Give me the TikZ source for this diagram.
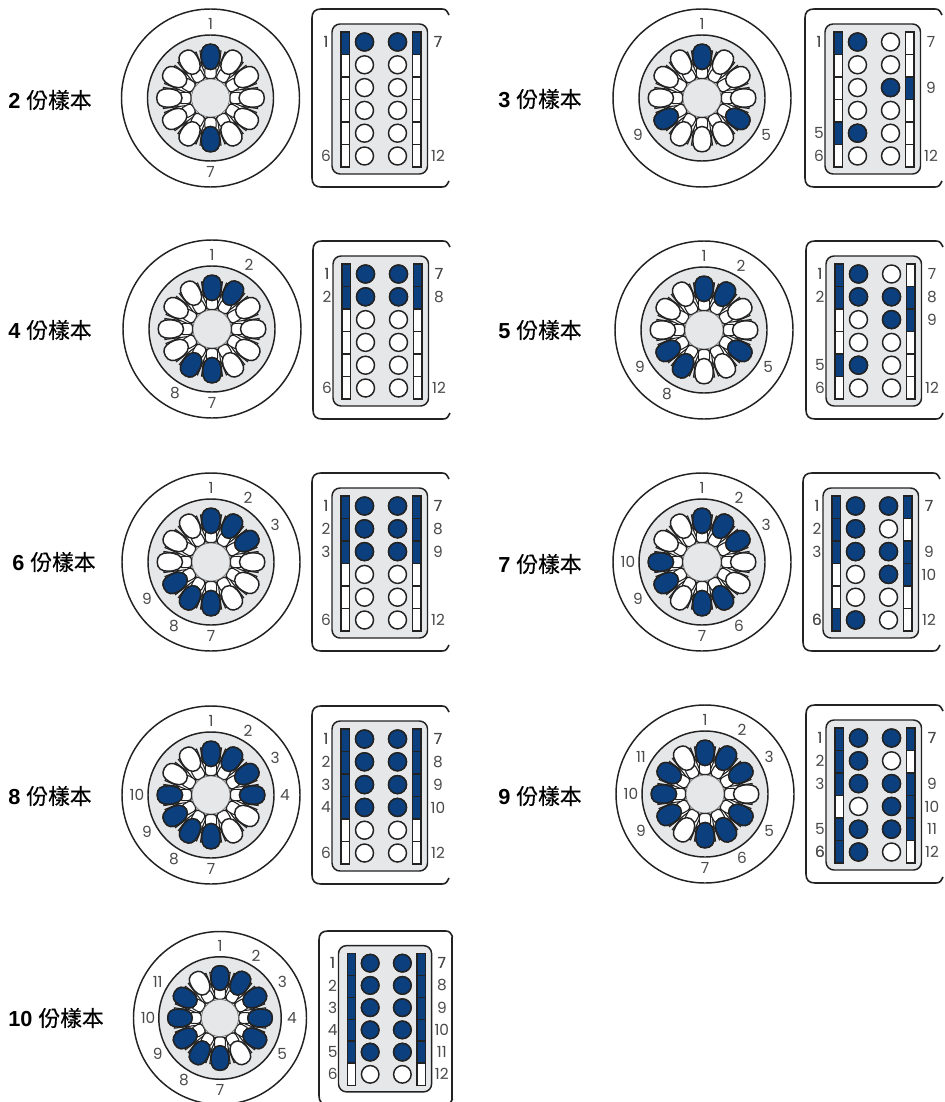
\documentclass[tikz,border=0pt]{standalone}
\usepackage{fontspec}
\setmainfont{Liberation Sans}
\newfontfamily\cjkfont[FakeBold=0.5]{Noto Sans CJK TC}
\newfontfamily\numfont{Poppins}
\definecolor{qblue}{HTML}{0B3F7E}
\definecolor{qgray}{HTML}{E6E7E8}
\definecolor{qline}{HTML}{222222}
\definecolor{qnum}{HTML}{4A4A4A}
\tikzset{
  qedge/.style={draw=qline,line width=1.1pt},
  thinedge/.style={draw=qline,line width=0.8pt},
  numlabel/.style={text=qnum,font=\numfont\fontsize{11.5}{13}\selectfont,inner sep=0pt},
  titlelabel/.style={anchor=west,inner sep=0pt,font=\fontsize{16.3}{18}\selectfont}
}
\newcommand{\qtube}[1]{%
  \path[qedge,fill=#1] (0,53.8) .. controls (6.5,53.8) and (9.2,49.5) .. (9.2,43)
    .. controls (9.2,35) and (6.5,28.5) .. (0,28.5)
    .. controls (-6.5,28.5) and (-9.2,35) .. (-9.2,43)
    .. controls (-9.2,49.5) and (-6.5,53.8) .. (0,53.8) -- cycle;}
\newcommand{\qpanel}[8]{%
  \node[titlelabel] (title#1) at (#3,-#4) {\textbf{#1} \cjkfont #2};
  \qrotor{#1}{#5}{#6}{#7}{#8}%
}
\newcommand{\qrotor}[5]{%
  \begin{scope}[shift={(#2,-#3)},scale=#4]
    \draw[qedge] (0,0) circle (89);
    \draw[qedge,fill=qgray] (0,0) circle (63);
    \foreach \a in {0,30,...,330}{
      \begin{scope}[rotate=-\a]
        \draw[thinedge,fill=white] (-10.5,47) -- (-7.5,24) .. controls (-6.5,17.5) and (6.5,17.5) .. (7.5,24) -- (10.5,47) -- cycle;
      \end{scope}
    }
    \foreach \a in {0,30,...,330}{
      \begin{scope}[rotate=-\a]
        \draw[thinedge,fill=white,rounded corners=2.5] (-5.6,19.5) rectangle (5.6,32);
      \end{scope}
    }
    \draw[draw=qline!70,line width=0.4pt,fill=qgray] (0,0) circle (19);
    \foreach \a in {0,30,...,330}{
      \begin{scope}[rotate=-\a]\qtube{white}\end{scope}
    }
    \foreach \p in {#5}{
      \begin{scope}[rotate={-30*(\p-1)}]\qtube{qblue}\end{scope}
      \node[numlabel] (rotor#1n\p) at ({74*sin(30*(\p-1))},{74*cos(30*(\p-1))}) {\p};
    }
  \end{scope}
}
\newcommand{\qplate}[5]{%
  \begin{scope}[shift={(#2,-#3)},scale=#4]
    \draw[qedge,line width=1.2pt] (137,-6) .. controls (135,-2) and (134,0) .. (130,0) -- (9,0)
       .. controls (3,0) and (0,-3) .. (0,-9) -- (0,-169)
       .. controls (0,-175) and (3,-178) .. (9,-178) -- (130,-178)
       .. controls (134,-178) and (135,-176) .. (137,-172);
    \draw[qedge,fill=qgray,rounded corners=6] (20,-15) rectangle (115.5,-165);
    \foreach \r in {1,...,6}{
      \pgfmathsetmacro{\yt}{-23-22.5*(\r-1)}
      \pgfmathsetmacro{\yc}{-33-22.8*(\r-1)}
      \draw[thinedge,fill=white] (29,\yt) rectangle (37.5,\yt-22.5);
      \draw[thinedge,fill=white] (100.5,\yt) rectangle (109,\yt-22.5);
      \draw[qedge,fill=white] (52.5,\yc) circle (9);
      \draw[qedge,fill=white] (85.5,\yc) circle (9);
    }
    \foreach \p in {#5}{
      \pgfmathtruncatemacro{\isleft}{\p<7 ? 1 : 0}
      \pgfmathtruncatemacro{\r}{\p<7 ? \p : \p-6}
      \pgfmathsetmacro{\yt}{-23-22.5*(\r-1)}
      \pgfmathsetmacro{\yc}{-33-22.8*(\r-1)}
      \pgfmathsetmacro{\xs}{\isleft==1 ? 29 : 100.5}
      \pgfmathsetmacro{\xc}{\isleft==1 ? 52.5 : 85.5}
      \draw[thinedge,fill=qblue] (\xs,\yt) rectangle (\xs+8.5,\yt-22.5);
      \draw[qedge,fill=qblue] (\xc,\yc) circle (9);
    }
    \foreach \r in {1,...,5}{
      \pgfmathsetmacro{\yt}{-23-22.5*\r}
      \draw[qedge] (29,\yt) -- (37.5,\yt);
      \draw[qedge] (100.5,\yt) -- (109,\yt);
    }
    \foreach \p in {1,6,7,12,#5}{
      \pgfmathtruncatemacro{\isleft}{\p<7 ? 1 : 0}
      \pgfmathtruncatemacro{\r}{\p<7 ? \p : \p-6}
      \pgfmathsetmacro{\yc}{-33-22.8*(\r-1)}
      \pgfmathsetmacro{\xl}{\isleft==1 ? 14 : 126}
      \node[numlabel] (plate#1n\p) at (\xl,\yc) {\p};
    }
  \end{scope}
}
\begin{document}
\begin{tikzpicture}[x=0.75pt,y=0.75pt]
  \useasboundingbox (0,0) rectangle (945,-1102);
  \clip (0,0) rectangle (945,-1102);
  \fill[white] (0,0) rectangle (945,-1102);
  \qpanel{2}{份樣本}{8}{100}{210.5}{98}{1}{1,7}
  \qplate{2}{312}{9}{1}{1,7}
  \qpanel{3}{份樣本}{498}{99}{702}{98}{1}{1,5,9}
  \qplate{3}{805}{9}{1}{1,5,9}
  \qpanel{4}{份樣本}{8}{330}{212}{329}{1}{1,2,7,8}
  \qplate{4}{313}{241}{1}{1,2,7,8}
  \qpanel{5}{份樣本}{498}{330}{704}{330}{1}{1,2,5,8,9}
  \qplate{5}{806}{241}{1}{1,2,5,8,9}
  \qpanel{6}{份樣本}{12}{562}{211}{562}{1}{1,2,3,7,8,9}
  \qplate{6}{312}{473}{1}{1,2,3,7,8,9}
  \qpanel{7}{份樣本}{498}{564}{702}{562}{1}{1,2,3,6,7,9,10}
  \qplate{7}{803}{473}{1}{1,2,3,6,7,9,10}
  \qpanel{8}{份樣本}{8}{796}{211}{795}{1}{1,2,3,4,7,8,9,10}
  \qplate{8}{312}{706}{1}{1,2,3,4,7,8,9,10}
  \qpanel{9}{份樣本}{498}{796}{705}{794}{1}{1,2,3,5,6,7,9,10,11}
  \qplate{9}{806}{705}{1}{1,2,3,5,6,7,9,10,11}
  \qpanel{10}{份樣本}{8}{1018}{220}{1018}{0.972}{1,2,3,4,5,7,8,9,10,11}
  \qplate{10}{319}{931}{0.975}{1,2,3,4,5,7,8,9,10,11}
  \draw[qedge,line width=1.2pt] (452,-937) -- (452,-1100);
\end{tikzpicture}
\end{document}
